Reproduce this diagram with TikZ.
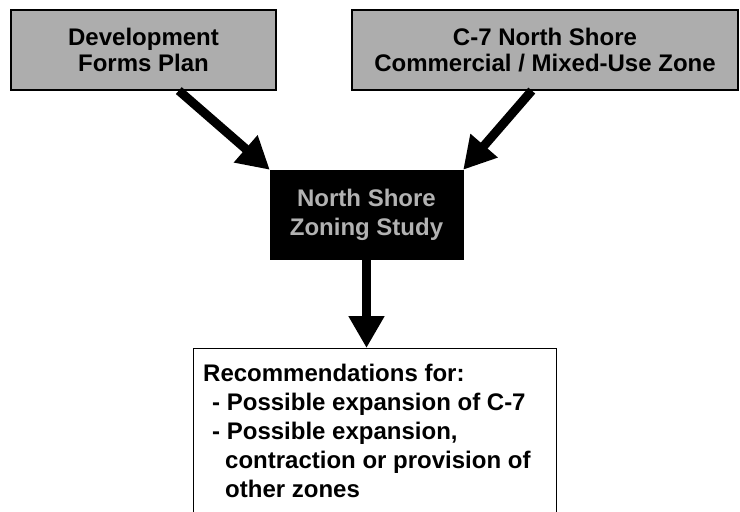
\documentclass[tikz,border=0pt]{standalone}
\usepackage{fontspec}
\setmainfont{Liberation Sans}
\usetikzlibrary{arrows.meta}
\tikzset{
  topbox/.style={draw=black, line width=1.2pt, fill=black!32, align=center, inner sep=0pt,
    font=\bfseries\fontsize{24}{26}\selectfont},
  studybox/.style={draw=black, fill=black, text=black!30, align=center, inner sep=0pt,
    minimum width=193pt, minimum height=89pt, font=\bfseries\fontsize{24}{29}\selectfont},
  recbox/.style={draw=black, line width=1pt, fill=white, inner sep=0pt,
    minimum width=363pt, minimum height=200pt},
  bigarrow/.style={line width=9pt, -{Triangle[length=32pt,width=34pt]}},
}
\begin{document}
\begin{tikzpicture}[x=1pt,y=-1pt]
	\useasboundingbox (0,0) rectangle (740,512);
	%oben
	\node[topbox, minimum width=265pt, minimum height=80pt] (devplan) at (143.5,50) {Development\\Forms Plan};
	\node[topbox, minimum width=386pt, minimum height=80pt] (czone) at (545,50) {C-7 North Shore\\Commercial / Mixed-Use Zone};
	%mitte
	\node[studybox] (study) at (366.5,214.5) {North Shore\\Zoning Study};
	%unten
	\node[recbox, anchor=north west] (recs) at (193,348) {};
	\node[anchor=north west, inner sep=0pt, align=left, font=\bfseries\fontsize{24}{29}\selectfont] (recstext)
		at ([xshift=10pt,yshift=-15.5pt]recs.north west)
		{Recommendations for:\\
		\hspace*{9pt}- Possible expansion of C-7\\
		\hspace*{9pt}- Possible expansion,\\
		\hspace*{22pt}contraction or provision of\\
		\hspace*{22pt}other zones};
	%pfeile
	\draw[bigarrow] (devplan.-49) -- (study.north west);
	\draw[bigarrow] (czone.-108) -- (study.north east);
	\draw[bigarrow] (study.south) -- (study.south |- recs.north);
\end{tikzpicture}
\end{document}
